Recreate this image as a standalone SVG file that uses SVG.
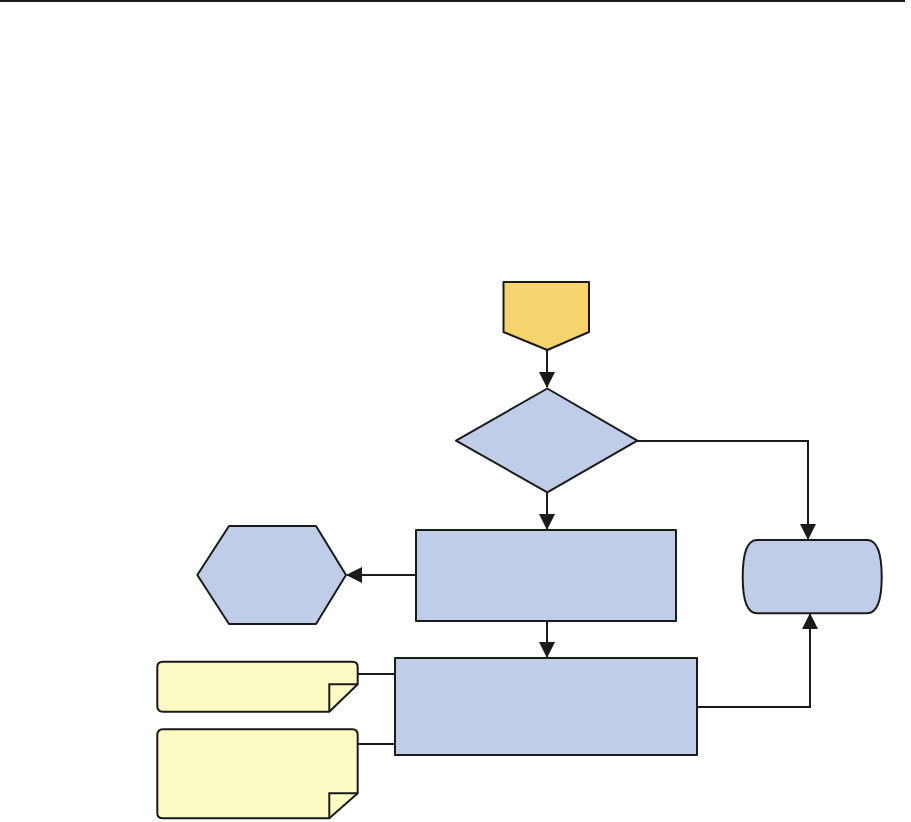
<svg xmlns="http://www.w3.org/2000/svg" width="911" height="822" viewBox="0 0 911 822">
<style>
.s{stroke:#1a1a1a;stroke-width:2;stroke-linejoin:round}
.b{fill:#bfcde9}
.y{fill:#fbfac2}
.c{fill:none;stroke:#1a1a1a;stroke-width:2}
</style>
<defs>
<marker id="ah" markerWidth="16" markerHeight="16" viewBox="0 0 16 16" refX="15" refY="8" orient="auto" markerUnits="userSpaceOnUse">
<path d="M0,0 L16,8 L0,16 Z" fill="#1a1a1a"/>
</marker>
</defs>
<rect width="911" height="822" fill="#fff"/>
<line x1="0" y1="1" x2="905" y2="1" stroke="#1a1a1a" stroke-width="2"/>
<g id="connectors">
<path class="c" d="M547,350 V387" marker-end="url(#ah)"/>
<path class="c" d="M637,441 H808 V539" marker-end="url(#ah)"/>
<path class="c" d="M547,492 V529" marker-end="url(#ah)"/>
<path class="c" d="M416,575 H347" marker-end="url(#ah)"/>
<path class="c" d="M547,621 V657" marker-end="url(#ah)"/>
<path class="c" d="M697,707 H810 V614" marker-end="url(#ah)"/>
<path class="c" d="M357,674 H395"/>
<path class="c" d="M357,744 H395"/>
</g>
<g id="start">
<path class="s" fill="#f5d46e" d="M503.5,282 H589 V332 L547.3,350 L503.5,332 Z"/>
</g>
<g id="decision">
<path class="s b" d="M547.3,388.5 L637.3,440.7 L547.3,492.3 L456,440.7 Z"/>
</g>
<g id="process1">
<rect class="s b" x="416" y="530" width="260" height="91"/>
</g>
<g id="hexagon">
<path class="s b" d="M197.3,575 L229,526 H316 L346,575 L316,624 H229 Z"/>
</g>
<g id="terminal">
<path class="s b" d="M757,540 H867 Q881.7,540 881.7,577 Q881.7,613.3 867,613.3 H757 Q742.7,613.3 742.7,577 Q742.7,540 757,540 Z"/>
</g>
<g id="process2">
<rect class="s b" x="395" y="658" width="302" height="97"/>
</g>
<g id="note1">
<path class="s y" d="M163,661.7 H352.5 Q357.7,661.7 357.7,667 V684.3 L329.3,711.7 H163 Q157.3,711.7 157.3,706 V667 Q157.3,661.7 163,661.7 Z"/>
<path class="c" d="M329.3,711.7 V684.3 H357.7"/>
</g>
<g id="note2">
<path class="s y" d="M163,729.3 H352.5 Q357.7,729.3 357.7,735 V793.3 L329.3,818.3 H163 Q157.3,818.3 157.3,813 V735 Q157.3,729.3 163,729.3 Z"/>
<path class="c" d="M329.3,818.3 V793.3 H357.7"/>
</g>
</svg>
